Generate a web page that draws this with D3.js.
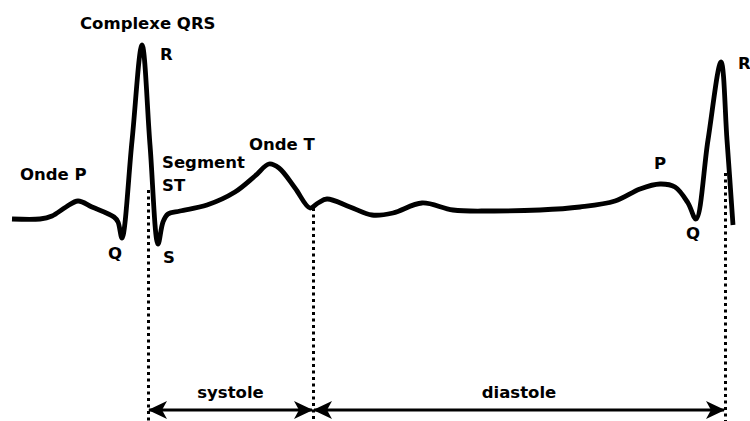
<!DOCTYPE html>
<html>
<head>
<meta charset="utf-8">
<script src="https://cdn.jsdelivr.net/npm/d3@7"></script>
<style>
  body { margin: 0; background: #fff; }
  text { font-family: "DejaVu Sans", sans-serif; font-weight: bold; font-size: 16.5px; fill: #000; }
</style>
</head>
<body>
<div id="container"></div>
<script>
const WIDTH = 750;
const HEIGHT = 421;

// ECG trace: time (arbitrary units) and amplitude (baseline = 0)
const ecgTime = [12, 40, 52, 66, 78, 92, 114, 118, 122, 132, 142, 150, 158, 163, 168, 180, 207, 235, 255, 269,
                 279, 295, 310, 318, 327, 350, 372, 393, 422, 453, 490, 540, 580, 615, 640, 660, 675, 688, 696,
                 708, 721, 727, 733];
const ecgAmp  = [0, 0, 3, 12, 18, 12, 2, -3, -19, 78, 174, 74, -25, -3, 5, 8, 14, 27, 43, 55,
                 51, 31, 11, 16, 20, 12, 4, 6, 16, 9, 8, 9, 12, 18, 30, 35, 32, 16, 0,
                 79, 157, 79, -6];

// phase boundaries (time) and the amplitude where the dotted marker starts
const boundaryTime = [148, 313, 725];
const boundaryTop  = [29, 11, 46];

const phaseNames = ['systole', 'diastole'];
const phaseStart = [148, 313];
const phaseEnd   = [313, 725];

// annotations: text, time, amplitude of baseline-left anchor
const labelText = ['Complexe QRS', 'R', 'Onde P', 'Q', 'S', 'Segment', 'ST', 'Onde T', 'P', 'Q', 'R'];
const labelTime = [80, 160, 20, 108, 163, 162, 162, 249, 654, 686, 738];
const labelAmp  = [190, 159, 39, -40, -44, 51, 28, 69, 50, -20, 150];

const xscale = d3.scaleLinear().domain([0, 750]).range([0, WIDTH]);
const yscale = d3.scaleLinear().domain([-50, 200]).range([269, 19]);

const svg = d3.select('#container')
              .append('svg')
                .attr('width', WIDTH)
                .attr('height', HEIGHT);

// dotted boundary markers
svg.selectAll('line.boundary')
   .data(boundaryTime)
   .enter()
   .append('line')
     .attr('class', 'boundary')
     .attr('x1', d => Math.round(xscale(d)) + 0.5)
     .attr('x2', d => Math.round(xscale(d)) + 0.5)
     .attr('y1', (d, i) => Math.round(yscale(boundaryTop[i])))
     .attr('y2', HEIGHT)
     .attr('stroke', '#000')
     .attr('stroke-width', 3)
     .attr('stroke-dasharray', '3,3.5');

// ECG trace
const ecg = ecgTime.map((t, i) => [t, ecgAmp[i]]);
const line = d3.line()
               .x(d => xscale(d[0]))
               .y(d => yscale(d[1]))
               .curve(d3.curveCatmullRom.alpha(0.5));

svg.append('path')
   .datum(ecg)
   .attr('d', line)
   .attr('fill', 'none')
   .attr('stroke', '#000')
   .attr('stroke-width', 4.8)
   .attr('stroke-linejoin', 'round')
   .attr('stroke-linecap', 'butt');

// double arrows for phases
const ARROW_Y = 410;
const defs = svg.append('defs');
['start', 'end'].forEach(k => {
  defs.append('marker')
      .attr('id', 'arrow-' + k)
      .attr('viewBox', '0 0 20 18')
      .attr('refX', k === 'end' ? 19 : 1)
      .attr('refY', 9)
      .attr('markerWidth', 20)
      .attr('markerHeight', 18)
      .attr('markerUnits', 'userSpaceOnUse')
      .attr('orient', 'auto')
    .append('path')
      .attr('d', k === 'end' ? 'M20,9 L1,0 L6,9 L1,18 Z' : 'M0,9 L19,0 L14,9 L19,18 Z')
      .attr('fill', '#000');
});

const phases = phaseNames.map((n, i) => ({ name: n, from: phaseStart[i], to: phaseEnd[i] }));

svg.selectAll('line.phase')
   .data(phases)
   .enter()
   .append('line')
     .attr('class', 'phase')
     .attr('x1', d => xscale(d.from) + 1)
     .attr('x2', d => xscale(d.to) - 1)
     .attr('y1', ARROW_Y)
     .attr('y2', ARROW_Y)
     .attr('stroke', '#000')
     .attr('stroke-width', 3)
     .attr('marker-start', 'url(#arrow-start)')
     .attr('marker-end', 'url(#arrow-end)');

svg.selectAll('text.phase')
   .data(phases)
   .enter()
   .append('text')
     .attr('class', 'phase')
     .attr('x', d => xscale((d.from + d.to) / 2))
     .attr('y', ARROW_Y - 12)
     .attr('text-anchor', 'middle')
     .text(d => d.name);

// annotations
svg.selectAll('text.label')
   .data(labelText)
   .enter()
   .append('text')
     .attr('class', 'label')
     .attr('x', (d, i) => xscale(labelTime[i]))
     .attr('y', (d, i) => yscale(labelAmp[i]))
     .text(d => d);
</script>
</body>
</html>
